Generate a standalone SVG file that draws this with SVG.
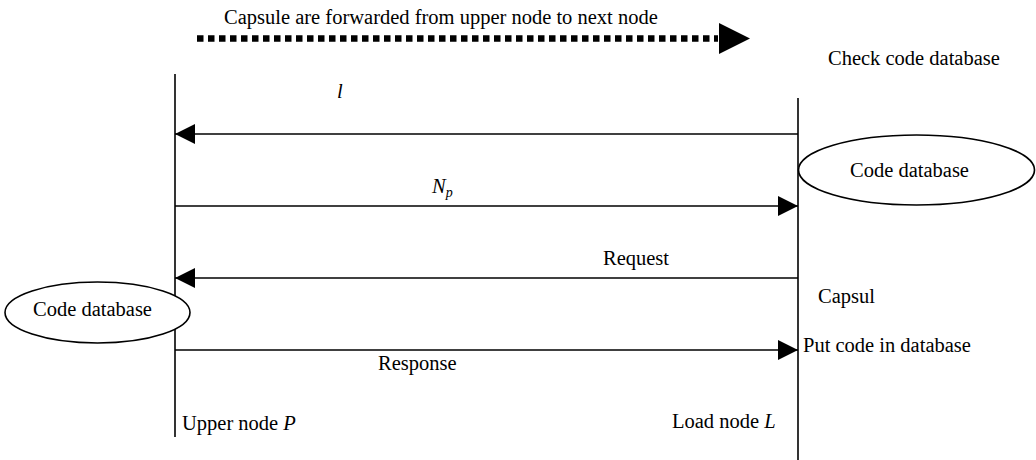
<svg xmlns="http://www.w3.org/2000/svg" width="1036" height="460" viewBox="0 0 1036 460">
<style>
text{font-family:'Liberation Serif','Times New Roman',Times,serif;font-size:20.5px;fill:#000}
.it{font-style:italic}
.life{stroke:#000;stroke-width:1.6;fill:none}
.msg{stroke:#000;stroke-width:1.3;fill:none}
.db{stroke:#000;stroke-width:1.6;fill:#fff}
</style>
<defs>
<marker id="ah" viewBox="0 0 10 10" refX="10" refY="5" markerUnits="userSpaceOnUse" markerWidth="21" markerHeight="20" orient="auto">
<path d="M0,0 L10,5 L0,10 Z" fill="#000"/>
</marker>
</defs>
<rect width="1036" height="460" fill="#fff"/>
<g id="title">
<text x="224" y="24">Capsule are forwarded from upper node to next node</text>
</g>
<g id="upper-node">
<line class="life" x1="175" y1="74" x2="175" y2="437"/>
<text x="182" y="430">Upper node <tspan class="it">P</tspan></text>
</g>
<g id="load-node">
<line class="life" x1="798" y1="98" x2="798" y2="460"/>
<text x="672" y="428">Load node <tspan class="it">L</tspan></text>
</g>
<g id="db-right">
<ellipse class="db" cx="916.5" cy="170" rx="118" ry="35"/>
<text x="850" y="177">Code database</text>
</g>
<g id="db-left">
<ellipse class="db" cx="97.5" cy="312.5" rx="92.5" ry="30.5"/>
<text x="33" y="316">Code database</text>
</g>
<g id="check"><text x="828" y="65">Check code database</text></g>
<g id="capsul"><text x="818" y="303">Capsul</text></g>
<g id="put"><text x="803" y="352">Put code in database</text></g>
<g id="connectors">
<line x1="197" y1="38.5" x2="718" y2="38.5" stroke="#000" stroke-width="6.5" stroke-dasharray="6.5,4.5"/>
<path d="M719,23 L750,38.5 L719,54 Z" fill="#000"/>
<line class="msg" x1="798" y1="134" x2="175" y2="134" marker-end="url(#ah)"/>
<line class="msg" x1="175" y1="206" x2="798" y2="206" marker-end="url(#ah)"/>
<line class="msg" x1="798" y1="278" x2="175" y2="278" marker-end="url(#ah)"/>
<line class="msg" x1="175" y1="350" x2="798" y2="350" marker-end="url(#ah)"/>
<text class="it" x="337" y="98">l</text>
<text class="it" x="432" y="193">N<tspan font-size="14" dy="4">p</tspan></text>
<text x="603" y="265">Request</text>
<text x="378" y="370">Response</text>
</g>
</svg>
